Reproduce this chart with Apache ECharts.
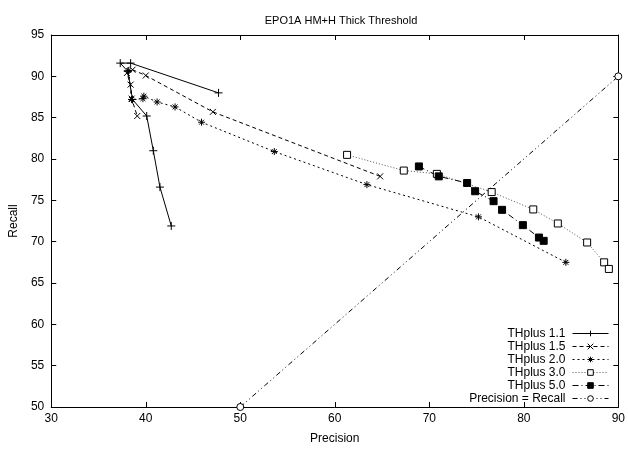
<!DOCTYPE html>
<html><head><meta charset="utf-8">
<script src="https://cdn.jsdelivr.net/npm/echarts@6/dist/echarts.min.js"></script>
<style>html,body{margin:0;padding:0;background:#fff}#c{width:628px;height:450px}</style>
</head><body><div id="c"></div>
<script>
const title = "EPO1A HM+H Thick Threshold";
const xName = "Precision";
const yName = "Recall";
const xTicks = [30, 40, 50, 60, 70, 80, 90];
const yTicks = [50, 55, 60, 65, 70, 75, 80, 85, 90, 95];

const th11X = [47.7, 38.4, 37.3, 38.1, 38.6, 40.1, 40.8, 41.5, 42.7];
const th11Y = [88.0, 91.6, 91.6, 90.6, 87.2, 85.2, 81.0, 76.6, 71.9];

const th15X = [64.8, 47.1, 40.0, 38.6, 38.0, 38.4, 38.5, 39.1];
const th15Y = [77.9, 85.7, 90.1, 90.8, 90.4, 89.0, 87.3, 85.2];

const th20X = [84.45, 75.2, 63.4, 53.6, 45.9, 43.1, 41.2, 39.8, 39.7, 38.5, 38.2];
const th20Y = [67.5, 73.0, 76.9, 80.9, 84.45, 86.3, 86.9, 87.6, 87.3, 87.2, 90.7];

const th30X = [61.3, 67.3, 70.8, 76.6, 81.0, 83.6, 86.7, 88.5, 89.0];
const th30Y = [80.5, 78.6, 78.2, 76.0, 73.9, 72.2, 69.9, 67.5, 66.7];

const th50X = [68.9, 71.0, 74.0, 74.85, 76.8, 77.7, 79.9, 81.6, 82.1];
const th50Y = [79.1, 77.9, 77.1, 76.1, 74.9, 73.85, 72.0, 70.5, 70.1];

const prX = [50, 90];
const prY = [50, 90];

const names = ["THplus 1.1", "THplus 1.5", "THplus 2.0", "THplus 3.0", "THplus 5.0", "Precision = Recall"];

function zip(xs, ys) { return xs.map((x, i) => [x, ys[i]]); }

const PLUS = 'path://M0,5H10M5,0V10';
const CROSS = 'path://M0,0L10,10M10,0L0,10';
const STAR = 'path://M0,5H10M5,0V10M1.5,1.5L8.5,8.5M8.5,1.5L1.5,8.5';

const font = '"Liberation Sans", Arial, sans-serif';

function mk(name, data, symbol, size, lineType, color, fill, lineColor) {
  return {
    name, type: 'line', data, symbol, symbolSize: size,
    showSymbol: true, animation: false, silent: true,
    lineStyle: { color: lineColor || '#000', width: 1, type: lineType },
    itemStyle: { color: fill, borderColor: color, borderWidth: 1 },
    z: 3
  };
}

const chart = echarts.init(document.getElementById('c'), null, { renderer: 'canvas' });
chart.setOption({
  animation: false,
  backgroundColor: '#fff',
  title: {
    text: title, left: 336, top: 10, textAlign: 'center',
    textStyle: { fontFamily: font, fontSize: 11, fontWeight: 'normal', color: '#000' }
  },
  grid: { left: 50, right: 5, top: 35, bottom: 41, containLabel: false },
  legend: {
    orient: 'vertical', right: 14, bottom: 40, align: 'right',
    itemWidth: 36, itemHeight: 7, itemGap: 0,
    lineStyle: { width: 1 },
    itemStyle: { borderWidth: 1 },
    textStyle: { fontFamily: font, fontSize: 12, lineHeight: 13, color: '#000', padding: [0, 2, 0, 0] },
    data: names
  },
  xAxis: [{
    type: 'value', min: 30, max: 90, interval: 10,
    name: xName, nameLocation: 'middle', nameGap: 26,
    nameTextStyle: { fontFamily: font, fontSize: 12, color: '#000' },
    axisLine: { show: true, lineStyle: { color: '#000', width: 1 } },
    axisTick: { show: true, inside: true, length: 5, lineStyle: { color: '#000' } },
    axisLabel: { fontFamily: font, fontSize: 12, color: '#000', margin: 6,
      formatter: v => xTicks.includes(v) ? String(v) : '' },
    splitLine: { show: false }
  }, {
    type: 'value', min: 30, max: 90, interval: 10, position: 'top',
    axisLine: { show: true, lineStyle: { color: '#000', width: 1 } },
    axisTick: { show: true, inside: true, length: 5, lineStyle: { color: '#000' } },
    axisLabel: { show: false }, splitLine: { show: false }
  }],
  yAxis: [{
    type: 'value', min: 50, max: 95, interval: 5,
    name: yName, nameLocation: 'middle', nameGap: 31, nameRotate: 90,
    nameTextStyle: { fontFamily: font, fontSize: 12, color: '#000' },
    axisLine: { show: true, lineStyle: { color: '#000', width: 1 } },
    axisTick: { show: true, inside: true, length: 5, lineStyle: { color: '#000' } },
    axisLabel: { fontFamily: font, fontSize: 12, color: '#000', margin: 7,
      formatter: v => yTicks.includes(v) ? String(v) : '' },
    splitLine: { show: false }
  }, {
    type: 'value', min: 50, max: 95, interval: 5, position: 'right',
    axisLine: { show: true, lineStyle: { color: '#000', width: 1 } },
    axisTick: { show: true, inside: true, length: 5, lineStyle: { color: '#000' } },
    axisLabel: { show: false }, splitLine: { show: false }
  }],
  series: [
    mk(names[0], zip(th11X, th11Y), PLUS, 8, 'solid', '#000', '#000'),
    mk(names[1], zip(th15X, th15Y), CROSS, 6, [4, 3], '#000', '#000'),
    mk(names[2], zip(th20X, th20Y), STAR, 7, [2, 3], '#000', '#000'),
    mk(names[3], zip(th30X, th30Y), 'rect', 7, [1, 2], '#000', '#fff', '#555'),
    mk(names[4], zip(th50X, th50Y), 'rect', 7, [6, 3, 1, 3], '#000', '#000'),
    mk(names[5], zip(prX, prY), 'circle', 7, [5, 3, 1, 3, 1, 3], '#000', '#fff')
  ]
});
</script>
</body></html>
